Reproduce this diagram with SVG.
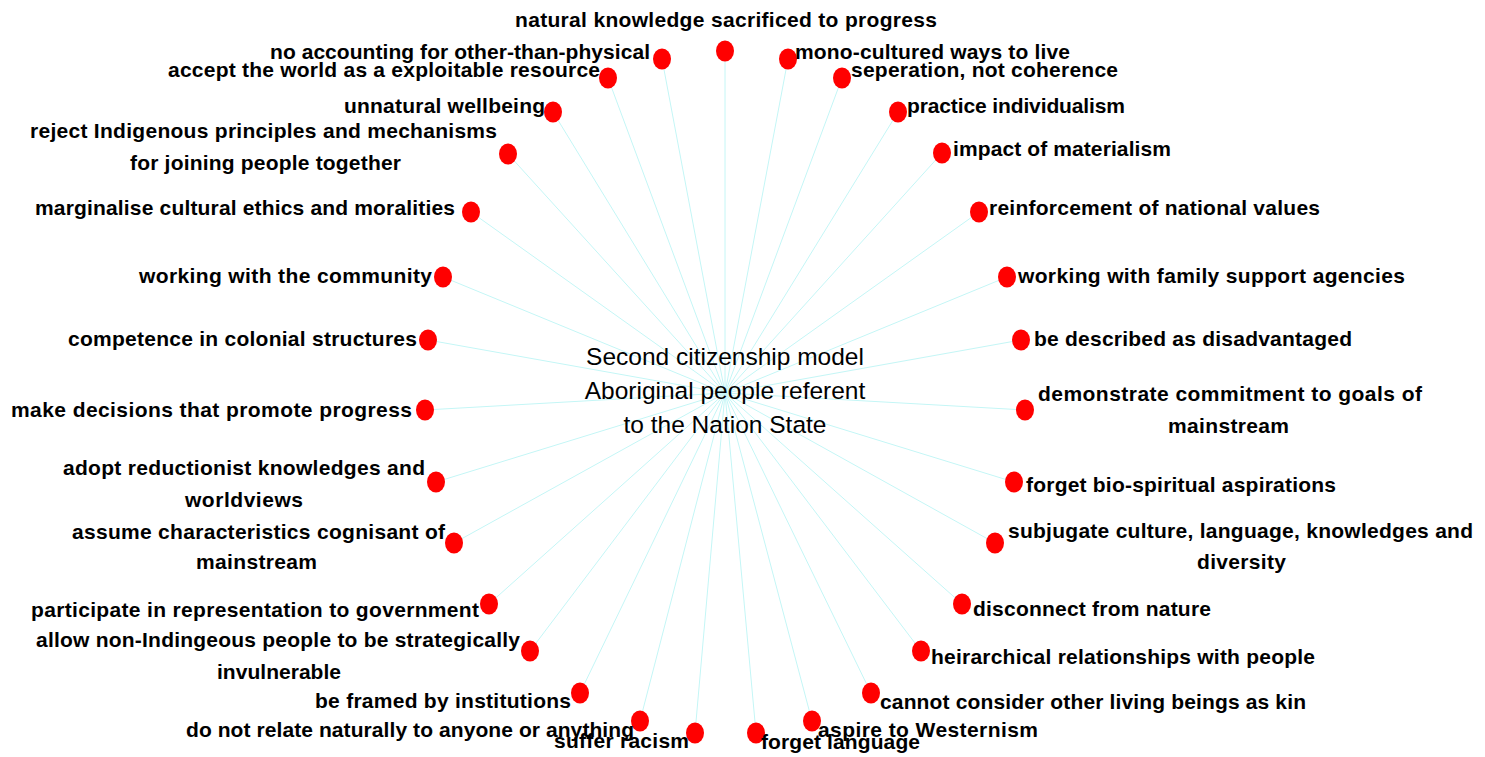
<svg xmlns="http://www.w3.org/2000/svg" width="1485" height="757" viewBox="0 0 1485 757">
<style>
.lbl{font-family:"Liberation Sans",Arial,sans-serif;font-weight:bold;font-size:21px;fill:#000}
.ctr{font-family:"Liberation Sans",Arial,sans-serif;font-size:24.5px;fill:#000}
.dot{fill:#ff0000}
.sp{stroke:#c4f6f6;stroke-width:1;fill:none}
</style>
<rect width="1485" height="757" fill="#ffffff"/>
<g id="connectors" class="sp">
<line x1="725" y1="393" x2="725" y2="51"/>
<line x1="725" y1="393" x2="662" y2="59"/>
<line x1="725" y1="393" x2="608" y2="78"/>
<line x1="725" y1="393" x2="553" y2="112"/>
<line x1="725" y1="393" x2="508" y2="154"/>
<line x1="725" y1="393" x2="471" y2="212"/>
<line x1="725" y1="393" x2="443" y2="277"/>
<line x1="725" y1="393" x2="428" y2="340"/>
<line x1="725" y1="393" x2="425" y2="410"/>
<line x1="725" y1="393" x2="436" y2="482"/>
<line x1="725" y1="393" x2="454" y2="543"/>
<line x1="725" y1="393" x2="489" y2="604"/>
<line x1="725" y1="393" x2="530" y2="651"/>
<line x1="725" y1="393" x2="580" y2="693"/>
<line x1="725" y1="393" x2="640" y2="721"/>
<line x1="725" y1="393" x2="695" y2="733"/>
<line x1="725" y1="393" x2="756" y2="733"/>
<line x1="725" y1="393" x2="812" y2="721"/>
<line x1="725" y1="393" x2="871" y2="693"/>
<line x1="725" y1="393" x2="921" y2="651"/>
<line x1="725" y1="393" x2="962" y2="604"/>
<line x1="725" y1="393" x2="995" y2="543"/>
<line x1="725" y1="393" x2="1014" y2="482"/>
<line x1="725" y1="393" x2="1025" y2="410"/>
<line x1="725" y1="393" x2="1021" y2="340"/>
<line x1="725" y1="393" x2="1007" y2="277"/>
<line x1="725" y1="393" x2="979" y2="212"/>
<line x1="725" y1="393" x2="942" y2="153"/>
<line x1="725" y1="393" x2="898" y2="112"/>
<line x1="725" y1="393" x2="842" y2="78"/>
<line x1="725" y1="393" x2="788" y2="59"/>
</g>
<g id="center">
<text class="ctr" x="725" y="365" text-anchor="middle">Second citizenship model</text>
<text class="ctr" x="725" y="399" text-anchor="middle">Aboriginal people referent</text>
<text class="ctr" x="725" y="433" text-anchor="middle">to the Nation State</text>
</g>
<g id="n1"><ellipse class="dot" cx="725" cy="51" rx="9" ry="10.5"/><text class="lbl" x="515" y="27" textLength="422" lengthAdjust="spacing">natural knowledge sacrificed to progress</text></g>
<g id="n2"><text class="lbl" x="270" y="59" textLength="380" lengthAdjust="spacing">no accounting for other-than-physical</text><ellipse class="dot" cx="662" cy="59" rx="9" ry="10.5"/></g>
<g id="n3"><text class="lbl" x="168" y="77" textLength="432" lengthAdjust="spacing">accept the world as a exploitable resource</text><ellipse class="dot" cx="608" cy="78" rx="9" ry="10.5"/></g>
<g id="n4"><text class="lbl" x="344" y="113" textLength="201" lengthAdjust="spacing">unnatural wellbeing</text><ellipse class="dot" cx="553" cy="112" rx="9" ry="10.5"/></g>
<g id="n5"><ellipse class="dot" cx="508" cy="154" rx="9" ry="10.5"/><text class="lbl" x="30" y="138" textLength="467" lengthAdjust="spacing">reject Indigenous principles and mechanisms</text><text class="lbl" x="130" y="170" textLength="271" lengthAdjust="spacing">for joining people together</text></g>
<g id="n6"><ellipse class="dot" cx="471" cy="212" rx="9" ry="10.5"/><text class="lbl" x="35" y="215" textLength="420" lengthAdjust="spacing">marginalise cultural ethics and moralities</text></g>
<g id="n7"><ellipse class="dot" cx="443" cy="277" rx="9" ry="10.5"/><text class="lbl" x="139" y="283" textLength="293" lengthAdjust="spacing">working with the community</text></g>
<g id="n8"><ellipse class="dot" cx="428" cy="340" rx="9" ry="10.5"/><text class="lbl" x="68" y="346" textLength="349" lengthAdjust="spacing">competence in colonial structures</text></g>
<g id="n9"><ellipse class="dot" cx="425" cy="410" rx="9" ry="10.5"/><text class="lbl" x="11" y="417" textLength="401" lengthAdjust="spacing">make decisions that promote progress</text></g>
<g id="n10"><ellipse class="dot" cx="436" cy="482" rx="9" ry="10.5"/><text class="lbl" x="63" y="475" textLength="362" lengthAdjust="spacing">adopt reductionist knowledges and</text><text class="lbl" x="185" y="507" textLength="118" lengthAdjust="spacing">worldviews</text></g>
<g id="n11"><ellipse class="dot" cx="454" cy="543" rx="9" ry="10.5"/><text class="lbl" x="72" y="539" textLength="373" lengthAdjust="spacing">assume characteristics cognisant of</text><text class="lbl" x="196" y="569" textLength="121" lengthAdjust="spacing">mainstream</text></g>
<g id="n12"><ellipse class="dot" cx="489" cy="604" rx="9" ry="10.5"/><text class="lbl" x="31" y="617" textLength="448" lengthAdjust="spacing">participate in representation to government</text></g>
<g id="n13"><ellipse class="dot" cx="530" cy="651" rx="9" ry="10.5"/><text class="lbl" x="36" y="647" textLength="484" lengthAdjust="spacing">allow non-Indingeous people to be strategically</text><text class="lbl" x="217" y="679" textLength="124" lengthAdjust="spacing">invulnerable</text></g>
<g id="n14"><ellipse class="dot" cx="580" cy="693" rx="9" ry="10.5"/><text class="lbl" x="315" y="708" textLength="256" lengthAdjust="spacing">be framed by institutions</text></g>
<g id="n15"><ellipse class="dot" cx="640" cy="721" rx="9" ry="10.5"/><text class="lbl" x="186" y="737" textLength="448" lengthAdjust="spacing">do not relate naturally to anyone or anything</text></g>
<g id="n16"><ellipse class="dot" cx="695" cy="733" rx="9" ry="10.5"/><text class="lbl" x="554" y="748" textLength="135" lengthAdjust="spacing">suffer racism</text></g>
<g id="n17"><ellipse class="dot" cx="756" cy="733" rx="9" ry="10.5"/><text class="lbl" x="761" y="749" textLength="159" lengthAdjust="spacing">forget language</text></g>
<g id="n18"><ellipse class="dot" cx="812" cy="721" rx="9" ry="10.5"/><text class="lbl" x="818" y="737" textLength="220" lengthAdjust="spacing">aspire to Westernism</text></g>
<g id="n19"><ellipse class="dot" cx="871" cy="693" rx="9" ry="10.5"/><text class="lbl" x="880" y="709" textLength="426" lengthAdjust="spacing">cannot consider other living beings as kin</text></g>
<g id="n20"><ellipse class="dot" cx="921" cy="651" rx="9" ry="10.5"/><text class="lbl" x="931" y="664" textLength="384" lengthAdjust="spacing">heirarchical relationships with people</text></g>
<g id="n21"><ellipse class="dot" cx="962" cy="604" rx="9" ry="10.5"/><text class="lbl" x="973" y="616" textLength="238" lengthAdjust="spacing">disconnect from nature</text></g>
<g id="n22"><ellipse class="dot" cx="995" cy="543" rx="9" ry="10.5"/><text class="lbl" x="1008" y="538" textLength="465" lengthAdjust="spacing">subjugate culture, language, knowledges and</text><text class="lbl" x="1197" y="569" textLength="89" lengthAdjust="spacing">diversity</text></g>
<g id="n23"><ellipse class="dot" cx="1014" cy="482" rx="9" ry="10.5"/><text class="lbl" x="1026" y="492" textLength="310" lengthAdjust="spacing">forget bio-spiritual aspirations</text></g>
<g id="n24"><ellipse class="dot" cx="1025" cy="410" rx="9" ry="10.5"/><text class="lbl" x="1038" y="401" textLength="384" lengthAdjust="spacing">demonstrate commitment to goals of</text><text class="lbl" x="1168" y="433" textLength="121" lengthAdjust="spacing">mainstream</text></g>
<g id="n25"><ellipse class="dot" cx="1021" cy="340" rx="9" ry="10.5"/><text class="lbl" x="1034" y="346" textLength="318" lengthAdjust="spacing">be described as disadvantaged</text></g>
<g id="n26"><ellipse class="dot" cx="1007" cy="277" rx="9" ry="10.5"/><text class="lbl" x="1018" y="283" textLength="387" lengthAdjust="spacing">working with family support agencies</text></g>
<g id="n27"><ellipse class="dot" cx="979" cy="212" rx="9" ry="10.5"/><text class="lbl" x="989" y="215" textLength="331" lengthAdjust="spacing">reinforcement of national values</text></g>
<g id="n28"><ellipse class="dot" cx="942" cy="153" rx="9" ry="10.5"/><text class="lbl" x="953" y="156" textLength="218" lengthAdjust="spacing">impact of materialism</text></g>
<g id="n29"><ellipse class="dot" cx="898" cy="112" rx="9" ry="10.5"/><text class="lbl" x="907" y="113" textLength="218" lengthAdjust="spacing">practice individualism</text></g>
<g id="n30"><ellipse class="dot" cx="842" cy="78" rx="9" ry="10.5"/><text class="lbl" x="851" y="77" textLength="267" lengthAdjust="spacing">seperation, not coherence</text></g>
<g id="n31"><ellipse class="dot" cx="788" cy="59" rx="9" ry="10.5"/><text class="lbl" x="795" y="59" textLength="275" lengthAdjust="spacing">mono-cultured ways to live</text></g>
</svg>
